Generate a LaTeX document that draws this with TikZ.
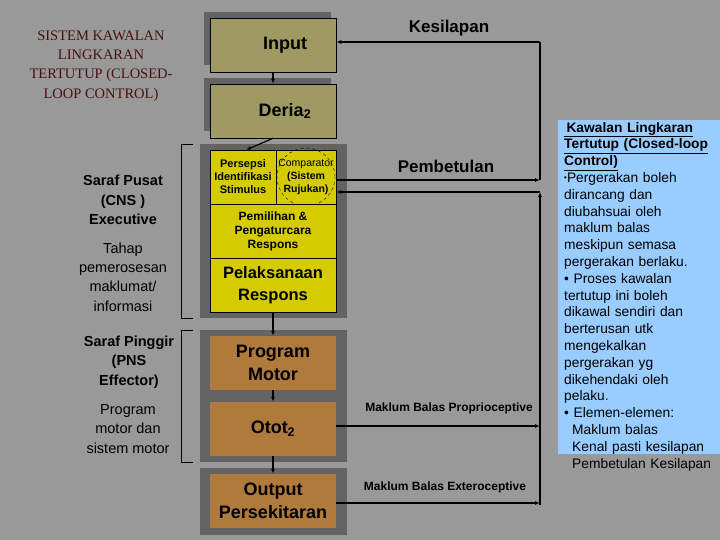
\documentclass[tikz,border=0pt]{standalone}
\usepackage{fontspec}
\setmainfont{Liberation Sans}
\newfontfamily\serifx{Liberation Serif}
\usetikzlibrary{arrows.meta}
\definecolor{bg}{HTML}{999999}
\definecolor{shad}{HTML}{636363}
\definecolor{olive}{HTML}{9E9A62}
\definecolor{yel}{HTML}{D4CC00}
\definecolor{brn}{HTML}{B07A3C}
\definecolor{lblue}{HTML}{99CCFF}
\definecolor{dred}{HTML}{4A1010}
\begin{document}
\begin{tikzpicture}[x=1pt,y=-1pt,
  box/.style={draw=black,line width=0.5pt,inner sep=0pt,align=center},
  arr/.style={-{Latex[length=5pt,width=4pt]},line width=1.2pt},
  ln/.style={line width=1.2pt},
  big/.style={font=\bfseries\fontsize{18}{20}\selectfont},
  sm/.style={font=\bfseries\fontsize{12}{14}\selectfont}]
\fill[bg] (0,0) rectangle (720,540);
\useasboundingbox (0,0) rectangle (720,540);
% shadows / panels
\fill[shad] (204,12) rectangle (331,65);
\fill[shad] (204,78) rectangle (331,131);
\fill[shad] (200,144) rectangle (347,318);
\fill[shad] (200,330) rectangle (347,462);
\fill[shad] (200,468) rectangle (347,535);
% boxes
\node[box,fill=olive,minimum width=126pt,minimum height=54pt,big] (input) at (273,45) {\hspace*{24pt}Input};
\node[box,fill=olive,minimum width=126pt,minimum height=54pt,big] (deria) at (273,111) {\hspace*{24pt}Deria$_{\mathbf{2}}$};
\node[box,fill=yel,minimum width=66pt,minimum height=54pt,font=\bfseries\fontsize{11}{13}\selectfont] (persepsi) at (243,177) {Persepsi\\Identifikasi\\Stimulus};
\node[box,fill=yel,minimum width=60pt,minimum height=54pt,font=\fontsize{10.5}{13}\selectfont] (comp) at (306,177) {Comparator\\\textbf{(Sistem}\\\textbf{Rujukan)}};
\draw[dashed,line width=0.4pt] (306,177) circle (29pt);
\node[box,fill=yel,minimum width=126pt,minimum height=54pt,font=\bfseries\fontsize{12}{14}\selectfont] (pemilihan) at (273,231) {Pemilihan \&\\Pengaturcara\\Respons};
\node[box,fill=yel,minimum width=126pt,minimum height=54pt,font=\bfseries\fontsize{16.5}{22}\selectfont] (pelak) at (273,285) {Pelaksanaan\\Respons};
\node[box,draw=none,fill=brn,minimum width=126pt,minimum height=54pt,font=\bfseries\fontsize{18}{23}\selectfont] (prog) at (273,363) {Program\\Motor};
\node[box,draw=none,fill=brn,minimum width=126pt,minimum height=54pt,big] (otot) at (273,429) {Otot$_{\mathbf{2}}$};
\node[box,draw=none,fill=brn,minimum width=126pt,minimum height=54pt,font=\bfseries\fontsize{18}{23}\selectfont] (output) at (273,501) {Output\\Persekitaran};
% right line coordinates
\coordinate (tr) at (540,42);
\coordinate (pb) at (540,180);
\coordinate (pu) at (540,192);
\coordinate (bot) at (540,505);
\coordinate (pr) at (540,426);
\coordinate (ex) at (540,503);
\draw[arr] (bot) -- (pu);
\draw[ln] (tr) -- (pb);
\draw[arr] (tr) -- (input.east|-tr);
\draw[arr] (comp.east|-pb) -- (pb);
\draw[arr] (pu) -- (comp.east|-pu);
\draw[arr] (otot.east|-pr) -- (pr);
\draw[arr] (output.east|-ex) -- (ex);
\draw[arr] (input.south) -- (deria.north);
\draw[arr] (deria.south) -- (246,150);
\draw[arr] (pelak.south) -- (prog.north);
\draw[arr] (prog.south) -- (otot.north);
\draw[arr] (otot.south) -- (output.north);
% labels
\node[font=\bfseries\fontsize{17}{20}\selectfont] (kes) at (449,28) {Kesilapan};
\node[font=\bfseries\fontsize{17}{20}\selectfont] (pem) at (446,166) {Pembetulan};
\node[sm] (mbp) at (449,408) {Maklum Balas Proprioceptive};
\node[sm] (mbe) at (445,487) {Maklum Balas Exteroceptive};
% left
\node[align=center,text=dred,font=\serifx\fontsize{14.5}{19.3}\selectfont] (title) at (101,66) {SISTEM KAWALAN\\LINGKARAN\\TERTUTUP (CLOSED-\\LOOP CONTROL)};
\node[align=center,font=\bfseries\fontsize{14.5}{19.3}\selectfont] (cns) at (123,200) {Saraf Pusat\\(CNS )\\Executive};
\node[align=center,font=\fontsize{14.5}{19.3}\selectfont] (tahap) at (123,277) {Tahap\\pemerosesan\\maklumat/\\informasi};
\node[align=center,font=\bfseries\fontsize{14.5}{19.3}\selectfont] (pns) at (129,362) {Saraf Pinggir\\(PNS\\Effector)};
\node[align=center,font=\fontsize{14.5}{19.3}\selectfont] (prm) at (128,429) {Program\\motor dan\\sistem motor};
\draw[line width=0.6pt] (193,144) -- (181,144) -- (181,318) -- (193,318);
\draw[line width=0.6pt] (193,330) -- (181,330) -- (181,462) -- (193,462);
% blue box
\fill[lblue] (558,120) rectangle (720,454);
\node[anchor=north west,align=left,text width=160pt,inner sep=0pt,font=\fontsize{13.8}{16.8}\selectfont] (desc) at (564,122) {%
\textbf{\underline{\,Kawalan Lingkaran}}\\
\textbf{\underline{Tertutup (Closed-loop}}\\
\textbf{\underline{Control)}}\\
{\fontsize{8}{8}\selectfont\raisebox{2pt}{\textbullet}}Pergerakan boleh\\
dirancang dan\\
diubahsuai oleh\\
maklum balas\\
meskipun semasa\\
pergerakan berlaku.\\
\textbullet{} Proses kawalan\\
tertutup ini boleh\\
dikawal sendiri dan\\
berterusan utk\\
mengekalkan\\
pergerakan yg\\
dikehendaki oleh\\
pelaku.\\
\textbullet{} Elemen-elemen:\\
\hspace*{8pt}Maklum balas\\
\hspace*{8pt}Kenal pasti kesilapan\\
\hspace*{8pt}Pembetulan Kesilapan};
\end{tikzpicture}
\end{document}
